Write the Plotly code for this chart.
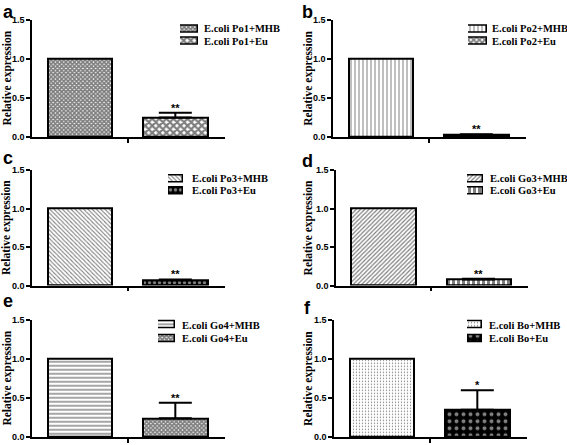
import plotly.graph_objects as go

# ---------------- data ----------------
panel_letters = ["a", "b", "c", "d", "e", "f"]
mhb_labels = ["E.coli Po1+MHB", "E.coli Po2+MHB", "E.coli Po3+MHB",
              "E.coli Go3+MHB", "E.coli Go4+MHB", "E.coli Bo+MHB"]
eu_labels = ["E.coli Po1+Eu", "E.coli Po2+Eu", "E.coli Po3+Eu",
             "E.coli Go3+Eu", "E.coli Go4+Eu", "E.coli Bo+Eu"]
mhb_values = [1.0, 1.0, 1.0, 1.0, 1.0, 1.0]
eu_values = [0.25, 0.03, 0.07, 0.08, 0.24, 0.35]
eu_errors = [0.06, 0.005, 0.01, 0.01, 0.20, 0.25]
significance = ["**", "**", "**", "**", "**", "*"]
y_tick_vals = [0, 0.5, 1.0, 1.5]
y_tick_text = ["0.0", "0.5", "1.0", "1.5"]
y_title = "Relative expression"

# ---------------- styles ----------------
W, H = 567, 445
def fx(x): return x / W
def fy(y): return 1 - y / H

pat_mhb = [
    dict(shape="x", size=3, solidity=0.8, fgcolor="black", bgcolor="white"),
    dict(shape="|", size=4, solidity=0.25, fgcolor="black", bgcolor="white"),
    dict(shape="\\", size=3, solidity=0.35, fgcolor="black", bgcolor="white"),
    dict(shape="/", size=3, solidity=0.4, fgcolor="black", bgcolor="white"),
    dict(shape="-", size=4, solidity=0.35, fgcolor="black", bgcolor="white"),
    dict(shape=".", size=3, solidity=0.15, fgcolor="black", bgcolor="white"),
]
pat_eu = [
    dict(shape="x", size=5, solidity=0.7, fgcolor="black", bgcolor="white"),
    dict(shape="x", size=4, solidity=0.7, fgcolor="black", bgcolor="white"),
    dict(shape=".", size=5, solidity=0.35, fgcolor="white", bgcolor="black"),
    dict(shape="|", size=5, solidity=0.6, fgcolor="black", bgcolor="white"),
    dict(shape="x", size=3, solidity=0.8, fgcolor="black", bgcolor="white"),
    dict(shape=".", size=7, solidity=0.25, fgcolor="white", bgcolor="black"),
]

# layout geometry per panel (pixels)
geo = [
    dict(ax0=32, ax1=225, top=15, bot=135, lx=(1, 15), tx=7.2, sw=(180, 198), txt=202, rows=(24.5, 37)),
    dict(ax0=333, ax1=526, top=15, bot=135, lx=(300, 15), tx=308.5, sw=(468, 487), txt=490, rows=(24.5, 37)),
    dict(ax0=32, ax1=225, top=169, bot=287, lx=(1, 165), tx=7.2, sw=(168, 183), txt=190, rows=(177.5, 190)),
    dict(ax0=336, ax1=528, top=169, bot=287, lx=(300, 168), tx=308.5, sw=(467, 483), txt=488, rows=(177.5, 190)),
    dict(ax0=32, ax1=225, top=322, bot=442, lx=(1, 311), tx=7.2, sw=(158, 175), txt=180, rows=(327.5, 341.5)),
    dict(ax0=334, ax1=527, top=322, bot=442, lx=(302, 318), tx=308.5, sw=(467, 482), txt=487, rows=(327.5, 341.5)),
]

TICK_FONT = dict(family="Liberation Sans", size=9, color="black", weight="bold")
SERIF = "Liberation Serif"

fig = go.Figure()
layout = dict(width=W, height=H, margin=dict(l=0, r=0, t=0, b=0),
              paper_bgcolor="white", plot_bgcolor="white", showlegend=False,
              bargap=0)
annotations = []

for i in range(6):
    g = geo[i]
    k = 2 * i + 1
    xname = "xaxis" if k == 1 else f"xaxis{k}"
    yname = "yaxis" if k == 1 else f"yaxis{k}"
    xa = "x" if k == 1 else f"x{k}"
    ya = "y" if k == 1 else f"y{k}"
    lxa, lya = f"x{k+1}", f"y{k+1}"

    # data bars
    fig.add_trace(go.Bar(x=[0], y=[mhb_values[i]], width=0.675, xaxis=xa, yaxis=ya,
                         marker=dict(color="white", line=dict(color="black", width=2),
                                     pattern=pat_mhb[i]), name=mhb_labels[i]))
    fig.add_trace(go.Bar(x=[1], y=[eu_values[i]], width=0.675, xaxis=xa, yaxis=ya,
                         marker=dict(color="white", line=dict(color="black", width=2),
                                     pattern=pat_eu[i]), name=eu_labels[i],
                         error_y=dict(type="data", symmetric=False, array=[eu_errors[i]],
                                      arrayminus=[0], color="black", thickness=2, width=16.5)))
    layout[xname] = dict(domain=[fx(g["ax0"]), fx(g["ax1"])], range=[-0.5, 1.52],
                         showline=True, linecolor="black", linewidth=1.5,
                         ticks="outside", ticklen=4, tickwidth=1.5, tickcolor="black",
                         tickvals=[0.5], ticktext=[""], showgrid=False, zeroline=False,
                         anchor=ya, fixedrange=True)
    layout[yname] = dict(domain=[fy(g["bot"]), fy(g["top"])], range=[0, 1.5],
                         showline=True, linecolor="black", linewidth=1.5,
                         ticks="outside", ticklen=4, tickwidth=1.5, tickcolor="black",
                         tickvals=y_tick_vals, ticktext=y_tick_text, tickfont=TICK_FONT,
                         showgrid=False, zeroline=False, anchor=xa, fixedrange=True)

    # significance stars
    annotations.append(dict(x=1, y=eu_values[i] + eu_errors[i], xref=xa, yref=ya,
                            text=f"<b>{significance[i]}</b>", showarrow=False,
                            yanchor="bottom", yshift=-3,
                            font=dict(family="Liberation Sans", size=11, color="black")))

    # legend swatches on their own little axes
    r1, r2 = g["rows"]
    step = r2 - r1
    for row, (val_pat, lab) in enumerate([(pat_mhb[i], mhb_labels[i]), (pat_eu[i], eu_labels[i])]):
        fig.add_trace(go.Bar(x=[1], y=[1 - row], orientation="h", width=7 / step,
                             xaxis=lxa, yaxis=lya, cliponaxis=False,
                             marker=dict(color="white", line=dict(color="black", width=1.5),
                                         pattern=val_pat), hoverinfo="skip"))
        annotations.append(dict(x=fx(g["txt"]), y=fy(g["rows"][row]), xref="paper", yref="paper",
                                text=f"<b>{lab}</b>", showarrow=False, xanchor="left",
                                yanchor="middle",
                                font=dict(family=SERIF, size=10.5, color="black")))
    layout[f"xaxis{k+1}"] = dict(domain=[fx(g["sw"][0]), fx(g["sw"][1])], range=[0, 1],
                                 visible=False, anchor=lya, fixedrange=True)
    layout[f"yaxis{k+1}"] = dict(domain=[fy(r2 + step / 2), fy(r1 - step / 2)],
                                 range=[-0.5, 1.5], visible=False, anchor=lxa, fixedrange=True)

    # y axis title
    annotations.append(dict(x=fx(g["tx"]), y=fy((g["top"] + g["bot"]) / 2), xref="paper",
                            yref="paper", text=f"<b>{y_title}</b>", textangle=-90,
                            showarrow=False, xanchor="center", yanchor="middle",
                            font=dict(family=SERIF, size=11.5, color="black")))
    # panel letter
    annotations.append(dict(x=fx(g["lx"][0]), y=fy(g["lx"][1]), xref="paper", yref="paper",
                            text=f"<b>{panel_letters[i]}</b>", showarrow=False,
                            xanchor="left", yanchor="bottom", yshift=-4,
                            font=dict(family="Liberation Sans", size=18, color="black")))

layout["annotations"] = annotations
fig.update_layout(**layout)
fig.write_html("out.html", config={"displayModeBar": False},
               post_script="document.body.style.margin='0';document.body.style.overflow='hidden';")
